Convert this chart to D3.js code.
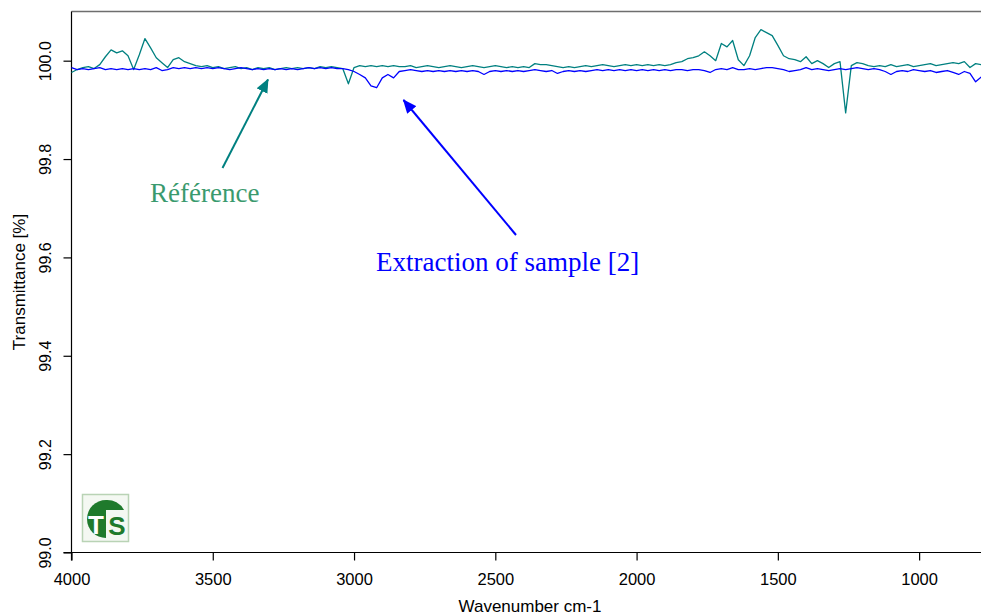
<!DOCTYPE html>
<html>
<head>
<meta charset="utf-8">
<script src="https://cdn.jsdelivr.net/npm/d3@7"></script>
<style>
  body { margin: 0; background: #fff; }
  svg { display: block; }
  .axis text { font-family: "Liberation Sans", Arial, sans-serif; fill: #000; }
  .axis path, .axis line { stroke: #000; stroke-width: 1.2; }
</style>
</head>
<body>
<svg id="chart"></svg>
<script>
// sampling grid, cm-1 (4000 down to 780, every 20)
const wavenumbers = d3.range(4000, 779, -20);

// Référence spectrum, transmittance %
const reference = [
  99.976, 99.982, 99.986, 99.988, 99.984, 99.992, 100.008, 100.022, 100.016, 100.020,
  100.010, 99.982, 100.012, 100.045, 100.026, 100.006, 99.996, 99.986, 100.002, 100.006,
  99.998, 99.994, 99.990, 99.988, 99.990, 99.986, 99.988, 99.984, 99.986, 99.988,
  99.984, 99.986, 99.982, 99.986, 99.984, 99.986, 99.982, 99.984, 99.986, 99.984,
  99.986, 99.984, 99.986, 99.984, 99.988, 99.986, 99.988, 99.986, 99.984, 99.953,
  99.986, 99.990, 99.988, 99.990, 99.988, 99.990, 99.988, 99.990, 99.988, 99.988,
  99.990, 99.986, 99.988, 99.990, 99.988, 99.986, 99.988, 99.990, 99.988, 99.986,
  99.988, 99.990, 99.988, 99.986, 99.988, 99.990, 99.988, 99.986, 99.988, 99.986,
  99.988, 99.986, 99.994, 99.992, 99.992, 99.990, 99.988, 99.986, 99.988, 99.986,
  99.988, 99.990, 99.988, 99.990, 99.992, 99.990, 99.988, 99.990, 99.992, 99.990,
  99.992, 99.990, 99.992, 99.990, 99.992, 99.990, 99.992, 99.996, 99.998, 100.004,
  100.006, 100.010, 100.018, 100.010, 100.000, 100.035, 100.028, 100.041, 100.002, 99.990,
  100.010, 100.047, 100.063, 100.057, 100.051, 100.031, 100.010, 100.004, 100.002, 99.998,
  100.008, 99.994, 100.000, 99.994, 99.986, 99.994, 99.998, 99.894, 99.990, 99.996,
  99.994, 99.990, 99.988, 99.990, 99.988, 99.992, 99.988, 99.990, 99.992, 99.988,
  99.990, 99.992, 99.994, 99.990, 99.992, 99.994, 99.996, 99.994, 99.998, 99.986,
  99.994, 99.992
];

// Extraction of sample [2], transmittance %
const extraction = [
  99.986, 99.982, 99.984, 99.982, 99.984, 99.986, 99.982, 99.984, 99.982, 99.984,
  99.982, 99.984, 99.982, 99.984, 99.982, 99.986, 99.980, 99.982, 99.986, 99.984,
  99.986, 99.984, 99.986, 99.984, 99.986, 99.984, 99.986, 99.984, 99.982, 99.984,
  99.986, 99.984, 99.982, 99.984, 99.982, 99.984, 99.982, 99.984, 99.982, 99.984,
  99.982, 99.984, 99.986, 99.984, 99.986, 99.984, 99.986, 99.984, 99.984, 99.982,
  99.978, 99.972, 99.965, 99.949, 99.945, 99.965, 99.972, 99.965, 99.978, 99.980,
  99.982, 99.980, 99.978, 99.980, 99.978, 99.980, 99.978, 99.980, 99.978, 99.980,
  99.978, 99.980, 99.978, 99.972, 99.978, 99.980, 99.978, 99.980, 99.978, 99.980,
  99.978, 99.980, 99.982, 99.980, 99.978, 99.980, 99.974, 99.978, 99.980, 99.978,
  99.980, 99.978, 99.980, 99.982, 99.980, 99.982, 99.980, 99.982, 99.980, 99.982,
  99.980, 99.982, 99.980, 99.982, 99.980, 99.982, 99.980, 99.982, 99.982, 99.980,
  99.982, 99.982, 99.980, 99.976, 99.982, 99.984, 99.982, 99.986, 99.982, 99.982,
  99.984, 99.982, 99.984, 99.986, 99.986, 99.984, 99.982, 99.978, 99.980, 99.982,
  99.986, 99.982, 99.984, 99.982, 99.980, 99.982, 99.984, 99.982, 99.984, 99.986,
  99.984, 99.982, 99.984, 99.982, 99.978, 99.972, 99.978, 99.980, 99.978, 99.982,
  99.980, 99.978, 99.980, 99.976, 99.978, 99.980, 99.976, 99.972, 99.978, 99.974,
  99.957, 99.967
];

const xTicks = [4000, 3500, 3000, 2500, 2000, 1500, 1000];
const yTicks = [99.0, 99.2, 99.4, 99.6, 99.8, 100.0];

const width = 981;
const height = 616;
const margin = {top: 11.5, right: 0, bottom: 63.5, left: 71.5};

const svg = d3.select("#chart")
    .attr("width", width)
    .attr("height", height);

const x = d3.scaleLinear()
    .domain([4000, 781])
    .range([margin.left, width - margin.right]);

const y = d3.scaleLinear()
    .domain([99.0, 100.1])
    .range([height - margin.bottom, margin.top]);

// frame line on top
svg.append("line")
    .attr("x1", margin.left).attr("x2", width)
    .attr("y1", margin.top).attr("y2", margin.top)
    .attr("stroke", "#6e6e6e")
    .attr("stroke-width", 1.6);

// x axis
const xAxis = svg.append("g")
    .attr("class", "axis")
    .attr("transform", `translate(0,${height - margin.bottom})`)
    .call(d3.axisBottom(x).tickValues(xTicks).tickFormat(d3.format("d")).tickSize(8).tickSizeOuter(0));
xAxis.select(".domain").attr("d", `M${margin.left - 8},0H${width}`);
xAxis.selectAll(".tick text")
    .style("font-size", "16.5px")
    .attr("dy", "1.3em");

// y axis, labels turned on their side
const yAxis = svg.append("g")
    .attr("class", "axis")
    .attr("transform", `translate(${margin.left},0)`)
    .call(d3.axisLeft(y).tickValues(yTicks).tickFormat(d3.format(".1f")).tickSize(8).tickSizeOuter(0));
yAxis.select(".domain").attr("d", `M0,${margin.top}V${height - margin.bottom + 8}`);
yAxis.selectAll(".tick text")
    .style("font-size", "16px")
    .attr("x", null)
    .attr("text-anchor", "middle")
    .attr("transform", "translate(-26,0) rotate(-90)")
    .attr("dy", "0.35em");

// axis titles
svg.append("text")
    .attr("x", 530)
    .attr("y", height - 4)
    .attr("text-anchor", "middle")
    .style("font", "17px 'Liberation Sans', Arial, sans-serif")
    .text("Wavenumber cm-1");

svg.append("text")
    .attr("transform", `translate(25,${(margin.top + height - margin.bottom) / 2}) rotate(-90)`)
    .attr("text-anchor", "middle")
    .style("font", "17px 'Liberation Sans', Arial, sans-serif")
    .text("Transmittance [%]");

// spectra
const line = d3.line()
    .x(d => x(d[0]))
    .y(d => y(d[1]));

svg.append("path")
    .datum(d3.zip(wavenumbers, reference))
    .attr("fill", "none")
    .attr("stroke", "#008080")
    .attr("stroke-width", 1.3)
    .attr("stroke-linejoin", "round")
    .attr("d", line);

svg.append("path")
    .datum(d3.zip(wavenumbers, extraction))
    .attr("fill", "none")
    .attr("stroke", "#0000ff")
    .attr("stroke-width", 1.3)
    .attr("stroke-linejoin", "round")
    .attr("d", line);

// arrow heads
const defs = svg.append("defs");
[["headTeal", "#008080"], ["headBlue", "#0000ff"]].forEach(([id, c]) => {
    defs.append("marker")
        .attr("id", id)
        .attr("viewBox", "0 0 14 12")
        .attr("refX", 13).attr("refY", 6)
        .attr("markerWidth", 14).attr("markerHeight", 12)
        .attr("markerUnits", "userSpaceOnUse")
        .attr("orient", "auto")
      .append("path")
        .attr("d", "M0,0L14,6L0,12Z")
        .attr("fill", c);
});

// annotations
svg.append("line")
    .attr("x1", 222.5).attr("y1", 168)
    .attr("x2", 268).attr("y2", 79.5)
    .attr("stroke", "#008080").attr("stroke-width", 2)
    .attr("marker-end", "url(#headTeal)");

svg.append("text")
    .attr("x", 150).attr("y", 202)
    .attr("fill", "#3a9a6e")
    .style("font", "27px 'Liberation Serif', 'Times New Roman', serif")
    .text("Référence");

svg.append("line")
    .attr("x1", 516).attr("y1", 235)
    .attr("x2", 403.5).attr("y2", 100)
    .attr("stroke", "#0000ff").attr("stroke-width", 2)
    .attr("marker-end", "url(#headBlue)");

svg.append("text")
    .attr("x", 376).attr("y", 271)
    .attr("fill", "#0000ff")
    .style("font", "27px 'Liberation Serif', 'Times New Roman', serif")
    .text("Extraction of sample [2]");

// small TS logo bottom left
const logo = svg.append("g").attr("transform", "translate(82,494)");
logo.append("rect")
    .attr("x", 0.5).attr("y", 0.5).attr("width", 46).attr("height", 47)
    .attr("fill", "#f4f8f2").attr("stroke", "#b9d3b5").attr("stroke-width", 1.5);
logo.append("path")
    .attr("d", "M24,6 A19,19 0 1 0 24,44 L24,6 Z")
    .attr("fill", "#1f7a2c");
logo.append("path")
    .attr("d", "M24,6 A19,19 0 0 1 42,16 L24,16 Z")
    .attr("fill", "#1f7a2c");
logo.append("text")
    .attr("x", 14).attr("y", 40)
    .attr("text-anchor", "middle")
    .attr("fill", "#ffffff")
    .style("font", "bold 26px 'Liberation Sans', Arial, sans-serif")
    .text("T");
logo.append("text")
    .attr("x", 35).attr("y", 41)
    .attr("text-anchor", "middle")
    .attr("fill", "#1f7a2c")
    .style("font", "bold 26px 'Liberation Sans', Arial, sans-serif")
    .text("S");
</script>
</body>
</html>
